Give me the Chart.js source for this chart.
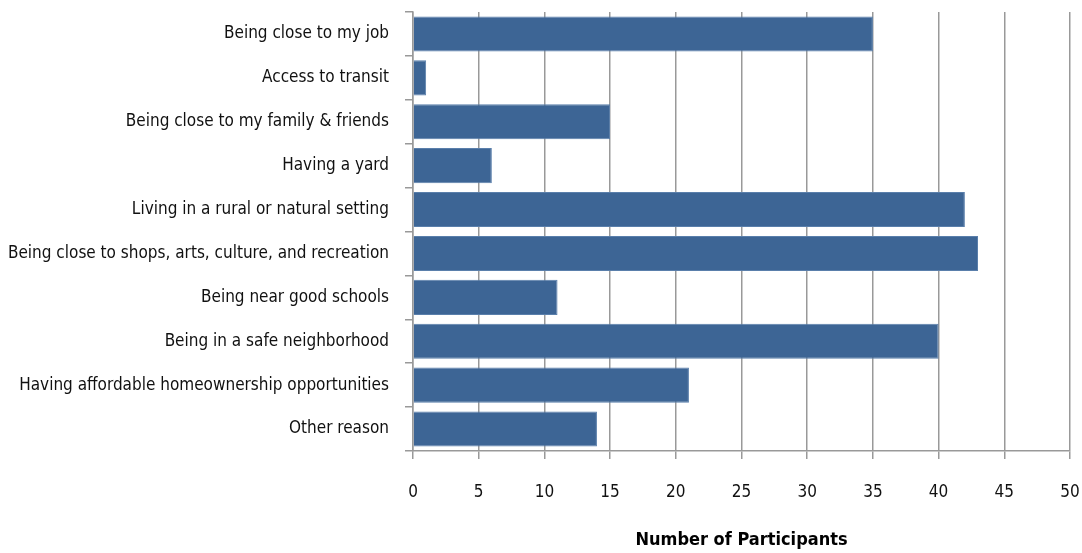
<!DOCTYPE html>
<html>
<head>
<meta charset="utf-8">
<script src="https://cdn.jsdelivr.net/npm/chart.js@4/dist/chart.umd.min.js"></script>
<style>
html,body{margin:0;padding:0;background:#fff;}
#wrap{width:1082px;height:553px;position:relative;}
</style>
</head>
<body>
<div id="wrap"><canvas id="c" width="1082" height="553"></canvas></div>
<script>
const categories = [
  "Being close to my job",
  "Access to transit",
  "Being close to my family & friends",
  "Having a yard",
  "Living in a rural or natural setting",
  "Being close to shops, arts, culture, and recreation",
  "Being near good schools",
  "Being in a safe neighborhood",
  "Having affordable homeownership opportunities",
  "Other reason"
];
const participants = [35, 1, 15, 6, 42, 43, 11, 40, 21, 14];
const xTicks = [0, 5, 10, 15, 20, 25, 30, 35, 40, 45, 50];
const xTitle = "Number of Participants";

const FONT = "'DejaVu Sans Condensed', 'Liberation Sans Narrow', sans-serif";
const gridColor = '#999999';

new Chart(document.getElementById('c'), {
  type: 'bar',
  data: {
    labels: categories,
    datasets: [{
      data: participants,
      backgroundColor: '#3d6595',
      borderColor: '#5a7fab',
      borderWidth: 1,
      barPercentage: 0.8,
      categoryPercentage: 1.0
    }]
  },
  options: {
    indexAxis: 'y',
    responsive: false,
    animation: false,
    layout: { padding: { left: 0, right: 12, top: 12, bottom: 0 } },
    plugins: { legend: { display: false }, tooltip: { enabled: false } },
    scales: {
      x: {
        min: 0, max: 50,
        afterBuildTicks: s => { s.ticks = xTicks.map(v => ({ value: v })); },
        afterFit: s => { s.height = 102; s.paddingLeft = 0; s.paddingRight = 0; },
        grid: { color: gridColor, lineWidth: 1.5, tickLength: 8, drawOnChartArea: true },
        border: { display: true, color: gridColor, width: 1.5 },
        ticks: { color: '#111', font: { family: FONT, size: 17 }, padding: 23 },
        title: { display: true, text: xTitle, color: '#000', font: { family: FONT, size: 18, weight: 'bold' }, padding: { top: 0, bottom: 2 } }
      },
      y: {
        afterFit: s => { s.width = 413; s.paddingTop = 0; s.paddingBottom = 0; },
        grid: { offset: true, drawOnChartArea: false, color: gridColor, lineWidth: 1.5, tickLength: 8 },
        border: { display: true, color: gridColor, width: 1.5 },
        ticks: { color: '#111', font: { family: FONT, size: 17 }, padding: 16, autoSkip: false }
      }
    }
  }
});
</script>
</body>
</html>
